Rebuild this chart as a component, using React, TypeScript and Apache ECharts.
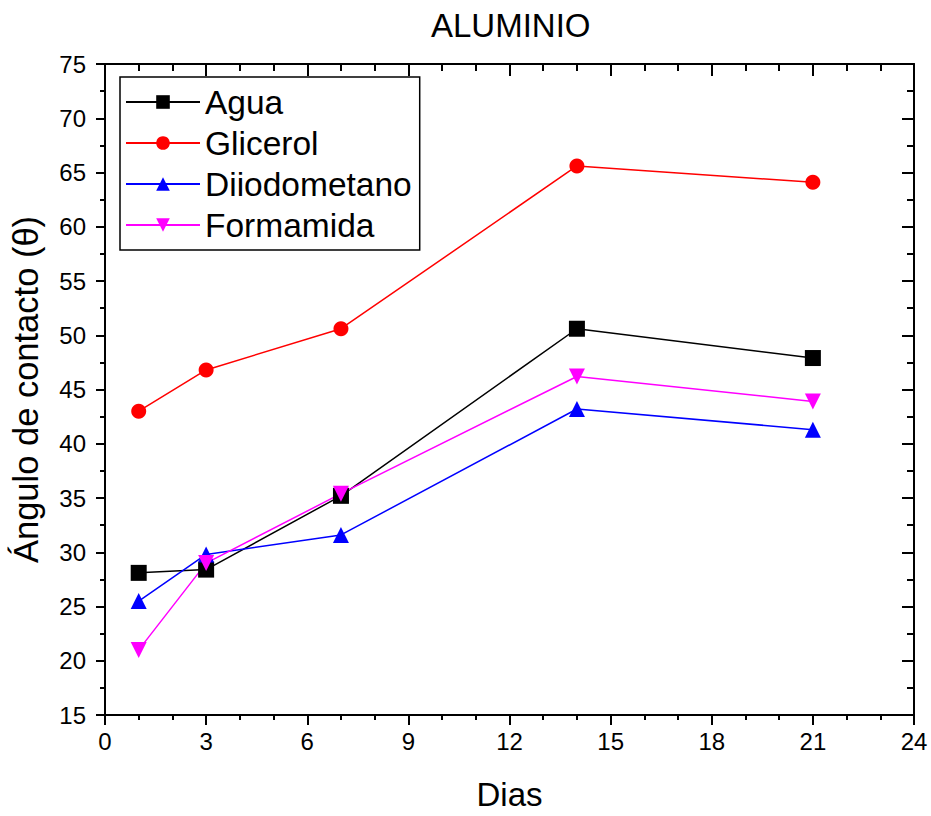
import React, { useEffect, useRef } from "react";
import * as echarts from "echarts";

const dias = [1, 3, 7, 14, 21];
const agua = [28.1, 28.4, 35.2, 50.6, 47.9];
const glicerol = [43.0, 46.8, 50.6, 65.6, 64.1];
const diiodometano = [25.5, 29.8, 31.6, 43.2, 41.3];
const formamida = [21.0, 29.0, 35.4, 46.2, 43.9];

const FONT = "'Liberation Sans', Arial, sans-serif";

function pairs(ys: number[]) {
  return dias.map((d, i) => [d, ys[i]]);
}

export default function App() {
  const ref = useRef<HTMLDivElement>(null);
  useEffect(() => {
    if (!ref.current) return;
    const chart = echarts.init(ref.current, undefined, { renderer: "svg" });
    const axisLine = { show: true, onZero: false, lineStyle: { color: "#000", width: 2 } };
    const mkSeries = (name: string, ys: number[], color: string, symbol: string, rot = 0) => ({
      name,
      type: "line",
      data: pairs(ys),
      symbol,
      symbolSize: symbol === "circle" ? 15 : 16,
      symbolRotate: rot,
      lineStyle: { color, width: 1.5 },
      itemStyle: { color },
    });
    chart.setOption({
      animation: false,
      backgroundColor: "#fff",
      title: {
        text: "ALUMINIO",
        left: 431,
        top: 9,
        padding: 0,
        textStyle: { fontFamily: FONT, fontSize: 33, fontWeight: "normal", color: "#000" },
      },
      grid: { left: 105, right: 17, top: 64, bottom: 98, containLabel: false },
      legend: {
        orient: "vertical",
        left: 120,
        top: 77,
        padding: [8, 8, 8, 5],
        borderColor: "#000",
        borderWidth: 1.5,
        itemWidth: 74,
        itemHeight: 17,
        itemGap: 7,
        textStyle: { fontFamily: FONT, fontSize: 33.5, color: "#000" },
        data: ["Agua", "Glicerol", "Diiodometano", "Formamida"],
      },
      xAxis: [
        {
          type: "value",
          position: "bottom",
          min: 0,
          max: 24,
          interval: 3,
          axisLine,
          axisTick: { show: true, inside: false, length: 10, lineStyle: { color: "#000", width: 2 } },
          minorTick: { show: true, splitNumber: 3, length: 5, lineStyle: { color: "#000", width: 2 } },
          splitLine: { show: false },
          axisLabel: { fontFamily: FONT, fontSize: 24, color: "#000", margin: 14 },
          name: "Dias",
          nameLocation: "middle",
          nameGap: 63,
          nameTextStyle: { fontFamily: FONT, fontSize: 33, color: "#000" },
        },
        {
          type: "value",
          position: "top",
          min: 0,
          max: 24,
          interval: 3,
          axisLine,
          axisTick: { show: true, inside: true, length: 12, lineStyle: { color: "#000", width: 2 } },
          minorTick: { show: true, splitNumber: 3, length: 7, lineStyle: { color: "#000", width: 2 } },
          splitLine: { show: false },
          axisLabel: { show: false },
        },
      ],
      yAxis: [
        {
          type: "value",
          position: "left",
          min: 15,
          max: 75,
          interval: 5,
          axisLine,
          axisTick: { show: true, inside: false, length: 9, lineStyle: { color: "#000", width: 2 } },
          minorTick: { show: true, splitNumber: 2, length: 5, lineStyle: { color: "#000", width: 2 } },
          splitLine: { show: false },
          axisLabel: { fontFamily: FONT, fontSize: 24, color: "#000", margin: 19 },
          name: "Ángulo de contacto (θ)",
          nameLocation: "middle",
          nameGap: 62,
          nameTextStyle: { fontFamily: FONT, fontSize: 34.5, color: "#000" },
        },
        {
          type: "value",
          position: "right",
          min: 15,
          max: 75,
          interval: 5,
          axisLine,
          axisTick: { show: true, inside: true, length: 12, lineStyle: { color: "#000", width: 2 } },
          minorTick: { show: true, splitNumber: 2, length: 7, lineStyle: { color: "#000", width: 2 } },
          splitLine: { show: false },
          axisLabel: { show: false },
        },
      ],
      series: [
        mkSeries("Agua", agua, "#000000", "rect"),
        mkSeries("Glicerol", glicerol, "#ff0000", "circle"),
        mkSeries("Diiodometano", diiodometano, "#0000ff", "triangle"),
        mkSeries("Formamida", formamida, "#ff00ff", "triangle", 180),
      ],
    });
    return () => chart.dispose();
  }, []);
  return <div ref={ref} style={{ width: 931, height: 816, position: "absolute", left: 0, top: 0 }} />;
}
